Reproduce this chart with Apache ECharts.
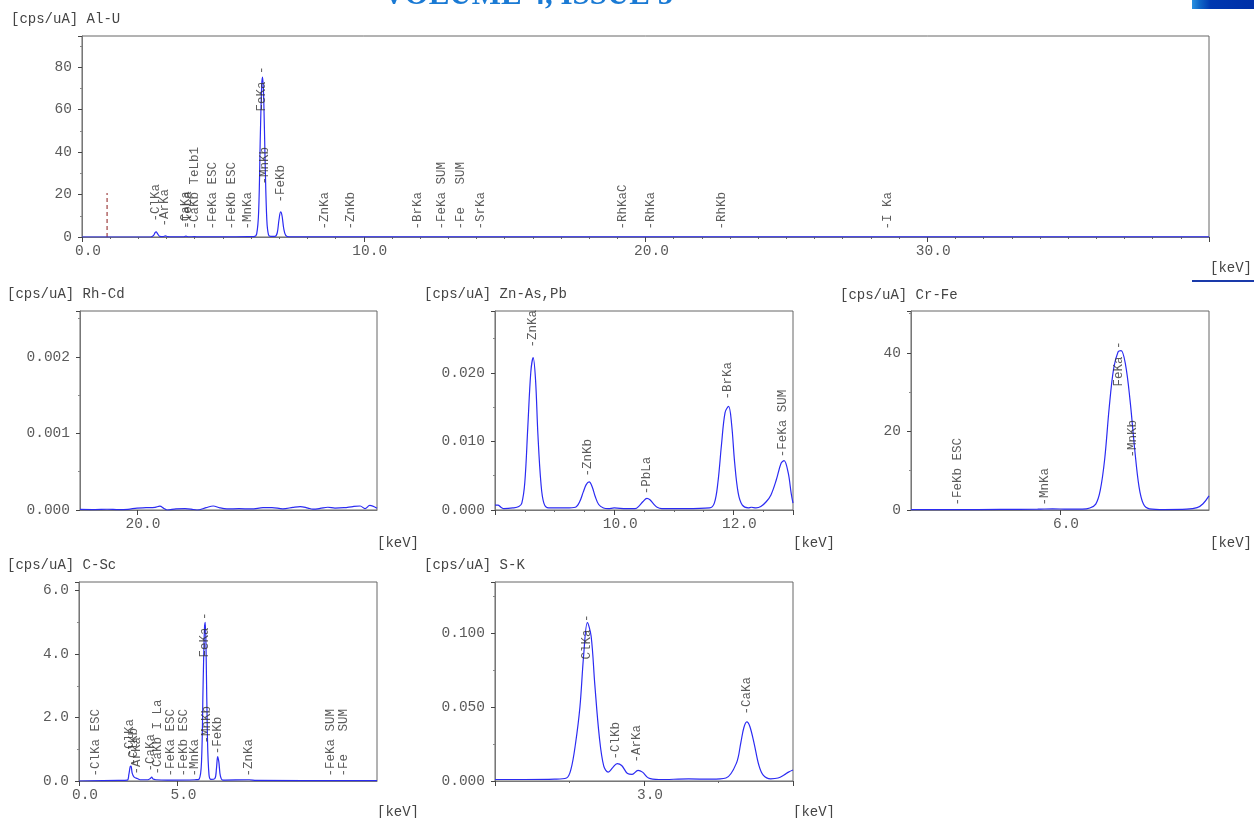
<!DOCTYPE html>
<html><head><meta charset="utf-8">
<script src="https://cdn.jsdelivr.net/npm/echarts@6/dist/echarts.min.js"></script>
<style>html,body{margin:0;padding:0;background:#fff}#c{width:1254px;height:818px}</style>
</head><body><div id="c"></div>
<script>
// ---------- spectra: [energy keV, intensity cps/uA] ----------
const alSpectrum = [[0,0],[1.5,0],[2.45,0.05],[2.54,0.8],[2.6,2.2],[2.63,2.4],[2.68,1.6],[2.76,0.3],[2.88,0.2],[2.96,0.5],
  [3.04,0.2],[3.2,0.05],[3.6,0.1],[3.69,0.4],[3.78,0.1],[4.0,0.15],[4.1,0.05],[5.0,0.05],[5.9,0.15],[6.1,0.2],
  [6.2,1.5],[6.27,12],[6.33,48],[6.38,72],[6.41,75.3],[6.45,65],[6.5,35],[6.56,8],[6.62,1],[6.7,0.3],
  [6.85,0.3],[6.93,2],[6.99,8],[7.05,11.8],[7.1,10],[7.16,4],[7.23,0.8],[7.35,0.1],[8.64,0.1],[9.0,0.05],
  [12.8,0.05],[20.2,0.05],[28.6,0.05],[40,0.03]];
const alMarker = [[0.89,0],[0.89,20.7]];

const rhSpectrum = [[19.05,0.000008],[19.3,0.000006],[19.5,0.00001],[19.7,0.000004],[19.85,0.000009],[20.0,0.000025],
  [20.15,0.00003],[20.3,0.000035],[20.38,0.00005],[20.45,0.00002],[20.5,0.0],[20.65,0.000015],[20.8,0.000018],
  [20.9,0.000012],[21.0,0.0],[21.15,0.00003],[21.27,0.000052],[21.38,0.000028],[21.5,0.000015],[21.7,0.000017],
  [21.9,0.000014],[22.1,0.00003],[22.25,0.000032],[22.43,0.000015],[22.6,0.000035],[22.72,0.000045],[22.85,0.000025],
  [22.93,0.000012],[23.05,0.00002],[23.18,0.000036],[23.3,0.000025],[23.45,0.00003],[23.6,0.000045],[23.72,0.000052],
  [23.8,0.000017],[23.88,0.00006],[24.0,0.000022]];

const znSpectrum = [[8.0,0.0007],[8.05,0.0007],[8.1,0.0004],[8.15,0.0002],[8.3,0.0003],[8.4,0.0005],[8.45,0.001],
  [8.5,0.004],[8.55,0.012],[8.6,0.02],[8.64,0.0222],[8.68,0.019],[8.72,0.011],[8.77,0.004],[8.82,0.001],[8.9,0.0003],
  [9.2,0.0003],[9.35,0.0004],[9.42,0.0012],[9.48,0.0026],[9.53,0.0037],[9.58,0.0041],[9.63,0.0034],[9.68,0.002],
  [9.74,0.0008],[9.82,0.0003],[9.9,0.0002],[10.0,0.0003],[10.2,0.0002],[10.35,0.0002],[10.42,0.0006],[10.48,0.0012],
  [10.55,0.0017],[10.6,0.0015],[10.66,0.0009],[10.72,0.0004],[10.8,0.0002],[11.2,0.0002],[11.6,0.0003],[11.68,0.001],
  [11.74,0.004],[11.8,0.0095],[11.86,0.0142],[11.92,0.0151],[11.97,0.0125],[12.02,0.007],[12.08,0.0025],[12.15,0.0007],
  [12.25,0.0003],[12.3,0.0004],[12.38,0.0003],[12.46,0.0005],[12.55,0.0012],[12.63,0.0022],[12.72,0.0044],[12.8,0.0068],
  [12.85,0.0072],[12.92,0.0054],[12.97,0.0024],[13.0,0.001]];

const crSpectrum = [[5.0,0.1],[5.3,0.1],[5.6,0.15],[5.85,0.2],[5.95,0.3],[6.05,0.2],[6.15,0.2],[6.2,0.5],[6.24,1.5],
  [6.27,5],[6.3,13],[6.33,26],[6.36,36],[6.39,40.3],[6.41,40.6],[6.44,37],[6.47,28],[6.5,16],[6.53,6],[6.56,1.5],
  [6.6,0.3],[6.7,0.1],[6.85,0.2],[6.92,0.6],[6.96,1.6],[7.0,3.6]];

const cSpectrum = [[0,0],[2.0,0.02],[2.45,0.03],[2.53,0.2],[2.6,0.45],[2.64,0.47],[2.7,0.25],[2.8,0.12],[2.96,0.08],
  [3.1,0.04],[3.5,0.04],[3.62,0.08],[3.69,0.12],[3.76,0.06],[3.9,0.04],[4.5,0.03],[5.9,0.04],[6.1,0.06],[6.22,0.6],
  [6.3,3.0],[6.37,4.8],[6.41,5.0],[6.46,3.8],[6.52,1.4],[6.6,0.2],[6.7,0.05],[6.9,0.08],[6.98,0.4],[7.04,0.77],
  [7.1,0.6],[7.18,0.15],[7.3,0.03],[8.64,0.04],[9.0,0.02],[15.13,0.01]];

const sSpectrum = [[2.0,0.001],[2.2,0.001],[2.4,0.0012],[2.48,0.002],[2.51,0.008],[2.54,0.025],[2.57,0.05],[2.595,0.085],
  [2.62,0.107],[2.645,0.098],[2.67,0.065],[2.7,0.03],[2.73,0.01],[2.76,0.006],[2.79,0.009],[2.82,0.0118],[2.85,0.0105],
  [2.89,0.005],[2.92,0.0045],[2.96,0.0072],[2.99,0.006],[3.03,0.002],[3.1,0.001],[3.3,0.0014],[3.45,0.0012],[3.55,0.002],
  [3.62,0.012],[3.65,0.026],[3.67,0.036],[3.69,0.04],[3.71,0.037],[3.74,0.025],[3.77,0.011],[3.8,0.004],[3.85,0.0015],
  [3.9,0.002],[3.94,0.004],[3.97,0.006],[4.0,0.0074]];

// ---------- peak labels ----------
const alLabelText = ['-ClKa','-ArKa','-CaKa','-TeLa','-CaKb TeLb1','-FeKa ESC','-FeKb ESC','-MnKa','FeKa -','-MnKb','-FeKb',
  '-ZnKa','-ZnKb','-BrKa','-FeKa SUM','-Fe   SUM','-SrKa','-RhKaC','-RhKa','-RhKb','-I Ka'];
const alLabelE = [2.62,2.96,3.69,3.77,4.01,4.66,5.32,5.90,6.40,6.49,7.06,8.64,9.57,11.92,12.80,13.46,14.16,19.2,20.21,22.72,28.61];
const alLabelY = [3.8,1.4,0.4,0.4,0,0,0,0,76.7,21.2,12.7,0,0,0,0,0,0,0,0,0,0];

const znLabelText = ['-ZnKa','-ZnKb','-PbLa','-BrKa','-FeKa SUM'];
const znLabelE = [8.64,9.57,10.55,11.92,12.83];
const znLabelY = [0.0226,0.0038,0.0012,0.015,0.0066];

const crLabelText = ['-FeKb ESC','-MnKa','FeKa -','-MnKb'];
const crLabelE = [5.32,5.90,6.40,6.49];
const crLabelY = [0,0,41.8,12.2];

const cLabelText = ['-ClKa ESC','-ClKa','-ClKb','-ArKa','-CaKa','-CaKb I La','-FeKa ESC','-FeKb ESC','-MnKa','FeKa -',
  '-MnKb','-FeKb','-ZnKa','-FeKa SUM','-Fe   SUM'];
const cLabelE = [0.88,2.62,2.815,2.96,3.69,4.01,4.66,5.32,5.90,6.40,6.49,7.06,8.64,12.80,13.46];
const cLabelY = [0,0.63,0.35,0.06,0.16,0.06,0,0,0,5.17,1.04,0.7,0,0,0];

const sLabelText = ['ClKa -','-ClKb','-ArKa','-CaKa'];
const sLabelE = [2.62,2.815,2.957,3.69];
const sLabelY = [0.1074,0.0095,0.0074,0.0399];

// ---------- panel titles / axes ----------
const panelNames = ['Al-U','Rh-Cd','Zn-As,Pb','Cr-Fe','C-Sc','S-K'];
const yUnit = '[cps/uA]';
const xUnit = '[keV]';
const xRanges = [[0,40],[19.05,24.0],[8,13],[5,7],[0,15.13],[2,4]];
const xIntervals = [10,null,2,1,null,1];
const xCustomTicks = [null,[20,22],null,null,[0,5,10],null];
const yMax = [94.6,0.0026,0.029,50.7,6.27,0.1345];
const yIntervals = [20,0.001,0.01,20,2,0.05];
const yDecimals = [0,3,3,0,1,3];

// ---------- layout ----------
const FONT = '"Liberation Mono","DejaVu Sans Mono",monospace';
const grids = [
  {left:82, top:36, width:1127, height:201},
  {left:80, top:311, width:297, height:199},
  {left:495, top:311, width:298, height:199},
  {left:911, top:311, width:298, height:199},
  {left:79, top:582, width:298, height:199},
  {left:495, top:582, width:298, height:199}
];
const titlePos = [[11,19],[7,294],[424,294],[840,295],[7,565],[424,565]];
const unitPos = [[1252,268],[419,543],[835,543],[1252,543],[419,812],[835,812]];
const labelLift = [7,7,7,4,4,7];
const xMinor = [10,0,4,0,0,2];
const hideXMin = [false,false,true,true,false,true];

const spectra = [alSpectrum, rhSpectrum, znSpectrum, crSpectrum, cSpectrum, sSpectrum];
const labelSets = [
  [alLabelText, alLabelE, alLabelY],
  null,
  [znLabelText, znLabelE, znLabelY],
  [crLabelText, crLabelE, crLabelY],
  [cLabelText, cLabelE, cLabelY],
  [sLabelText, sLabelE, sLabelY]
];

const xAxes = [], yAxes = [], series = [], graphics = [];
grids.forEach((g, i) => {
  const xa = {
    type:'value', gridIndex:i, min:xRanges[i][0], max:xRanges[i][1],
    axisLine:{show:true, onZero:false, lineStyle:{color:'#777'}},
    axisTick:{show:true, length:5, lineStyle:{color:'#444'}},
    splitLine:{show:false},
    axisLabel:{fontFamily:FONT, fontSize:14.5, color:'#5a5a5a', margin:7, padding:[0,0,0,12],
      showMinLabel:!hideXMin[i], showMaxLabel:false, formatter:v => v.toFixed(1)}
  };
  if (xIntervals[i] != null) xa.interval = xIntervals[i];
  if (xCustomTicks[i]) { xa.axisLabel.customValues = xCustomTicks[i]; xa.axisTick.customValues = xCustomTicks[i]; }
  if (xMinor[i]) xa.minorTick = {show:true, splitNumber:xMinor[i], length:2, lineStyle:{color:'#666'}};
  xAxes.push(xa);
  yAxes.push({
    type:'value', gridIndex:i, min:0, max:yMax[i], interval:yIntervals[i],
    axisLine:{show:true, lineStyle:{color:'#777'}},
    axisTick:{show:true, length:4, lineStyle:{color:'#444'}},
    minorTick:{show:true, splitNumber:2, length:2, lineStyle:{color:'#888'}},
    splitLine:{show:false},
    axisLabel:{fontFamily:FONT, fontSize:14.5, color:'#5a5a5a', margin:10, showMaxLabel:false,
      formatter:v => v.toFixed(yDecimals[i])}
  });
  series.push({
    type:'line', xAxisIndex:i, yAxisIndex:i, data:spectra[i], symbol:'none', showSymbol:false,
    smooth:0.35, lineStyle:{color:'#2b2bf2', width:1.2}, z:3, silent:true
  });
  const ls = labelSets[i];
  if (ls) {
    const data = ls[0].map((t, k) => ({
      name:t, value:[ls[1][k], ls[2][k]],
      label:{align: t.endsWith(' -') ? 'right' : 'left', position:[0, -labelLift[i]]}
    }));
    series.push({
      type:'scatter', xAxisIndex:i, yAxisIndex:i, symbolSize:1, itemStyle:{color:'rgba(0,0,0,0)'},
      silent:true, z:4, clip:false, data,
      label:{show:true, formatter:'{b}', rotate:90, verticalAlign:'middle',
        fontFamily:FONT, fontSize:12.5, color:'#333'}
    });
  }
  graphics.push({type:'text', x:titlePos[i][0], y:titlePos[i][1],
    style:{text:yUnit + ' ' + panelNames[i], font:'14px ' + FONT, fill:'#444', verticalAlign:'middle', align:'left'}});
  graphics.push({type:'text', x:unitPos[i][0], y:unitPos[i][1],
    style:{text:xUnit, font:'14px ' + FONT, fill:'#444', verticalAlign:'middle', align:'right'}});
});

series.push({
  type:'line', xAxisIndex:0, yAxisIndex:0, data:alMarker, symbol:'none', silent:true, z:2,
  lineStyle:{color:'#8b1a1a', width:1, type:[4,3]}
});

graphics.push({type:'text', x:528, y:11,
  style:{text:'VOLUME 4, ISSUE 5', font:'bold 31px "Liberation Serif","DejaVu Serif",serif', fill:'#1a7ad4',
    align:'center', verticalAlign:'bottom'}});
graphics.push({type:'rect', shape:{x:1192, y:0, width:62, height:9},
  style:{fill:new echarts.graphic.LinearGradient(0,0,1,0,[
    {offset:0, color:'#2a92e2'},{offset:0.12, color:'#1068c8'},{offset:0.3, color:'#0038b0'},{offset:1, color:'#0030a8'}])}});
graphics.push({type:'rect', shape:{x:1192, y:280, width:62, height:2}, style:{fill:'#1a3aaa'}});

const chart = echarts.init(document.getElementById('c'), null, {renderer:'canvas'});
chart.setOption({
  animation:false,
  backgroundColor:'#fff',
  grid: grids.map(g => Object.assign({show:true, borderColor:'#666', borderWidth:1, backgroundColor:'rgba(0,0,0,0)'}, g)),
  xAxis:xAxes, yAxis:yAxes, series, graphic:graphics
});
</script></body></html>
